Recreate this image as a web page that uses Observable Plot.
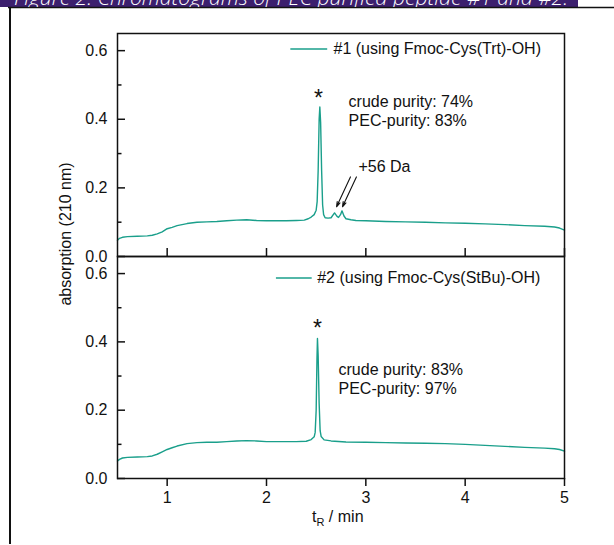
<!DOCTYPE html>
<html>
<head>
<meta charset="utf-8">
<script src="https://cdn.jsdelivr.net/npm/d3@7"></script>
<script src="https://cdn.jsdelivr.net/npm/@observablehq/plot@0.6"></script>
<style>
  html, body { margin: 0; padding: 0; background: #fff; }
  #wrap { position: relative; width: 614px; height: 545px; overflow: hidden; font-family: "Liberation Sans", Arial, sans-serif; color: #111; }
  #wrap svg.plot, #wrap > svg { position: absolute; left: 0; }
  .lbl { position: absolute; font-size: 16px; line-height: 18px; white-space: nowrap; color: #111; }
</style>
</head>
<body>
<div id="wrap">
  <svg id="hdr" width="614" height="12" style="top:0">
    <clipPath id="hclip"><rect x="0" y="0" width="578" height="7"></rect></clipPath>
    <rect x="0" y="0" width="578" height="7" fill="#3c1f6e"></rect>
    <line x1="8" y1="7.5" x2="614" y2="7.5" stroke="#111" stroke-width="1.5"></line>
    <text x="14" y="5" fill="#ffffff" font-family="'Open Sans', Lato, sans-serif" font-style="italic" font-weight="300" font-size="20" textLength="554" lengthAdjust="spacingAndGlyphs" clip-path="url(#hclip)">Figure 2: Chromatograms of PEC purified peptide #1 and #2.</text>
  </svg>
  <div style="position:absolute; left:8.5px; top:7px; width:2px; height:537px; background:#111;"></div>
  <div class="lbl" id="ylab" style="left:-34px; top:225px; width:200px; text-align:center; transform: rotate(-90deg);">absorption (210 nm)</div>
  <div class="lbl" id="xlab" style="left:312px; top:508px;">t<sub style="font-size:11px; vertical-align:-4px;">R</sub> / min</div>
</div>
<script>
// ---------- data ----------
const xTicks = [1, 2, 3, 4, 5];
const yMajor = [0, 0.2, 0.4, 0.6];
const yMinor = [0.1, 0.3, 0.5];

const time1 = [0.50,0.52,0.55,0.60,0.70,0.80,0.85,0.90,0.95,1.00,1.05,1.10,1.20,1.30,1.40,1.50,1.60,1.70,1.80,1.90,2.00,2.10,2.20,2.30,2.38,2.42,2.45,2.48,2.50,2.51,2.52,2.53,2.537,2.545,2.555,2.565,2.575,2.59,2.62,2.65,2.685,2.71,2.725,2.745,2.76,2.78,2.80,2.85,2.90,3.00,3.20,3.40,3.60,3.80,4.00,4.20,4.40,4.60,4.80,4.90,4.95,5.00];
const abs1  = [0.047,0.053,0.056,0.058,0.059,0.060,0.062,0.066,0.072,0.081,0.085,0.090,0.096,0.100,0.101,0.102,0.104,0.106,0.107,0.105,0.104,0.104,0.104,0.105,0.106,0.110,0.115,0.122,0.135,0.160,0.250,0.400,0.436,0.390,0.250,0.150,0.122,0.113,0.112,0.113,0.127,0.117,0.114,0.122,0.133,0.118,0.110,0.107,0.105,0.104,0.102,0.101,0.100,0.098,0.097,0.095,0.093,0.090,0.088,0.086,0.083,0.077];

const time2 = [0.50,0.52,0.55,0.60,0.70,0.80,0.85,0.90,0.95,1.00,1.05,1.10,1.20,1.30,1.40,1.50,1.60,1.70,1.80,1.90,2.00,2.10,2.20,2.30,2.40,2.45,2.48,2.49,2.50,2.508,2.513,2.52,2.53,2.54,2.55,2.58,2.65,2.80,3.00,3.20,3.40,3.60,3.80,4.00,4.20,4.40,4.60,4.80,4.90,4.95,5.00];
const abs2  = [0.051,0.056,0.060,0.062,0.063,0.064,0.066,0.071,0.078,0.085,0.090,0.095,0.102,0.105,0.106,0.106,0.108,0.110,0.111,0.110,0.108,0.108,0.108,0.108,0.109,0.114,0.122,0.135,0.200,0.350,0.410,0.360,0.220,0.140,0.123,0.113,0.110,0.107,0.106,0.105,0.104,0.103,0.102,0.100,0.097,0.094,0.091,0.089,0.087,0.085,0.080];

const legend1 = ["#1 (using Fmoc-Cys(Trt)-OH)"];
const legend2 = ["#2 (using Fmoc-Cys(StBu)-OH)"];
const purity1 = ["crude purity: 74%", "PEC-purity: 83%"];
const purity2 = ["crude purity: 83%", "PEC-purity: 97%"];
const star = ["*"];
const impurityLabel = ["+56 Da"];
const impurityPeaks = [2.705, 2.765];   // retention times of the +56 Da side peaks

// ---------- build ----------
const teal = "#1a9f8b";
const ink = "#111";
const series1 = time1.map((t, i) => ({t, a: abs1[i]}));
const series2 = time2.map((t, i) => ({t, a: abs2[i]}));

const common = {
  width: 614, marginLeft: 117, marginRight: 50,
  x: {domain: [0.5, 5]}, y: {domain: [0, 0.65]},
  style: {background: "transparent", fontFamily: "'Liberation Sans', Arial, sans-serif", fontSize: "16px", color: ink, overflow: "visible"}
};
const yAxes = [
  Plot.axisY({ticks: yMajor, tickSize: 0, tickPadding: 10, tickFormat: d3.format(".1f"), label: null, fontSize: 16}),
  Plot.axisY({ticks: yMajor, tickSize: -8, text: null, label: null, strokeWidth: 1.5}),
  Plot.axisY({ticks: yMinor, tickSize: -4.5, text: null, label: null, strokeWidth: 1.5})
];

const bottomPlot = Plot.plot({
  ...common,
  height: 309, marginTop: 20, marginBottom: 67,
  marks: [
    ...yAxes,
    Plot.axisX({ticks: xTicks, tickSize: 8, tickPadding: 5, strokeWidth: 1.5, label: null, fontSize: 16, tickFormat: d => String(d)}),
    Plot.line(series2, {x: "t", y: "a", stroke: teal, strokeWidth: 1.4}),
    Plot.ruleY([0.587], {x1: 2.10, x2: 2.46, stroke: teal, strokeWidth: 1.4}),
    Plot.text(legend2, {x: 2.51, y: 0.587, text: d => d, textAnchor: "start", fontSize: 16}),
    Plot.text(star, {x: 2.514, y: 0.438, text: d => d, fontSize: 23}),
    Plot.text(purity2, {x: 2.725, y: (d, i) => [0.318, 0.262][i], text: d => d, textAnchor: "start", fontSize: 16}),
    Plot.frame({stroke: ink, strokeWidth: 1.5})
  ]
});
bottomPlot.style.top = "236px";

const topPlot = Plot.plot({
  ...common,
  height: 280, marginTop: 33, marginBottom: 24,
  marks: [
    ...yAxes,
    Plot.axisX({ticks: xTicks, tickSize: -8, text: null, label: null, strokeWidth: 1.5}),
    Plot.line(series1, {x: "t", y: "a", stroke: teal, strokeWidth: 1.4}),
    Plot.ruleY([0.605], {x1: 2.245, x2: 2.616, stroke: teal, strokeWidth: 1.4}),
    Plot.text(legend1, {x: 2.675, y: 0.605, text: d => d, textAnchor: "start", fontSize: 16}),
    Plot.text(star, {x: 2.524, y: 0.46, text: d => d, fontSize: 23}),
    Plot.text(purity1, {x: 2.826, y: (d, i) => [0.451, 0.395][i], text: d => d, textAnchor: "start", fontSize: 16}),
    Plot.text(impurityLabel, {x: 2.925, y: 0.261, text: d => d, textAnchor: "start", fontSize: 16}),
    Plot.arrow(impurityPeaks, {x1: d => d + 0.14, y1: 0.232, x2: d => d, y2: 0.145, stroke: ink, strokeWidth: 1.1, headLength: 7, headAngle: 35}),
    Plot.frame({stroke: ink, strokeWidth: 1.5})
  ]
});
topPlot.style.top = "0px";

const wrap = document.getElementById("wrap");
wrap.insertBefore(bottomPlot, document.getElementById("ylab"));
wrap.insertBefore(topPlot, document.getElementById("ylab"));
</script>
</body>
</html>
